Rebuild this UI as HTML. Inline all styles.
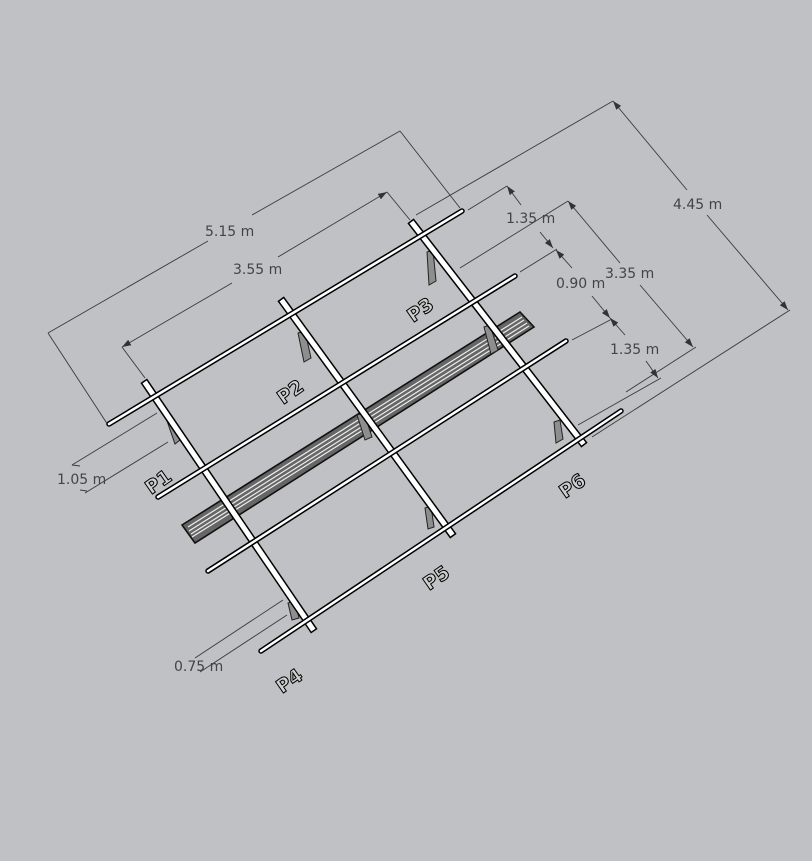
<!DOCTYPE html>
<html><head><meta charset="utf-8"><style>
html,body{margin:0;padding:0;background:#c0c1c5;}
svg{display:block}
text{font-family:"DejaVu Sans","Liberation Sans",sans-serif;}
</style></head><body>
<svg width="812" height="861" viewBox="0 0 812 861" xmlns="http://www.w3.org/2000/svg">
<rect width="812" height="861" fill="#c0c1c5"/>
<defs>
<marker id="ar" viewBox="0 0 10 10" refX="10" refY="5" markerWidth="9" markerHeight="9" orient="auto-start-reverse" markerUnits="userSpaceOnUse"><path d="M0,1.5 L10,5 L0,8.5 z" fill="#333"/></marker>
</defs>
<g stroke="#3a3a3a" stroke-width="0.9" fill="none">
 <line x1="48" y1="333" x2="108" y2="425"/>
 <line x1="400" y1="131" x2="460" y2="208"/>
 <line x1="48" y1="333" x2="208" y2="241"/>
 <line x1="252" y1="215" x2="400" y2="131"/>
 <line x1="122" y1="347" x2="145" y2="378"/>
 <line x1="387" y1="192" x2="410" y2="220"/>
 <line x1="122" y1="347" x2="232" y2="283" marker-start="url(#ar)"/>
 <line x1="278" y1="257" x2="387" y2="192" marker-end="url(#ar)"/>
 <line x1="613" y1="101" x2="416" y2="215"/>
 <line x1="790" y1="310" x2="592" y2="437"/>
 <line x1="613" y1="101" x2="687" y2="190" marker-start="url(#ar)"/>
 <line x1="707" y1="215" x2="788" y2="310" marker-end="url(#ar)"/>
 <line x1="507" y1="186" x2="468" y2="210"/>
 <line x1="507" y1="186" x2="521" y2="205" marker-start="url(#ar)"/>
 <line x1="540" y1="232" x2="553" y2="248" marker-end="url(#ar)"/>
 <line x1="557" y1="249" x2="520" y2="272"/>
 <line x1="556" y1="250" x2="572" y2="268" marker-start="url(#ar)"/>
 <line x1="592" y1="296" x2="610" y2="318" marker-end="url(#ar)"/>
 <line x1="612" y1="319" x2="572" y2="340"/>
 <line x1="610" y1="318" x2="625" y2="335" marker-start="url(#ar)"/>
 <line x1="646" y1="361" x2="658" y2="378" marker-end="url(#ar)"/>
 <line x1="661" y1="378" x2="578" y2="425"/>
 <line x1="568" y1="201" x2="460" y2="268"/>
 <line x1="568" y1="201" x2="620" y2="263" marker-start="url(#ar)"/>
 <line x1="640" y1="285" x2="693" y2="347" marker-end="url(#ar)"/>
 <line x1="696" y1="347" x2="626" y2="392"/>
 <line x1="157" y1="413" x2="72" y2="465"/>
 <line x1="168" y1="442" x2="85" y2="493"/>
 <line x1="80" y1="466" x2="72" y2="465"/>
 <line x1="80" y1="490" x2="87" y2="491"/>
 <line x1="283" y1="600" x2="195" y2="658"/>
 <line x1="287" y1="615" x2="200" y2="672"/>
</g>
<g fill="#444" font-size="14">
 <text x="205" y="236">5.15 m</text>
 <text x="233" y="274">3.55 m</text>
 <text x="673" y="209">4.45 m</text>
 <text x="506" y="223">1.35 m</text>
 <text x="556" y="288">0.90 m</text>
 <text x="605" y="278">3.35 m</text>
 <text x="610" y="354">1.35 m</text>
 <text x="57" y="484">1.05 m</text>
 <text x="174" y="671">0.75 m</text>
</g>
<g>
 <polygon points="182,525 520,312 534,327 195,543" fill="#666" stroke="#111" stroke-width="1.6"/>
 <g stroke="#eee" stroke-width="1.2">
  <line x1="188" y1="527" x2="522" y2="317"/>
  <line x1="189" y1="531" x2="524" y2="320"/>
  <line x1="191" y1="534" x2="527" y2="323"/>
  <line x1="192" y1="537" x2="529" y2="326"/>
 </g>
</g>
<g fill="#8e8e8e" stroke="#222" stroke-width="1">
 <polygon points="166,418 172,416 180,440 175,444"/>
 <polygon points="298,333 305,331 311,358 304,362"/>
 <polygon points="427,252 433,250 436,281 429,285"/>
 <polygon points="357,415 364,413 372,437 365,440"/>
 <polygon points="484,327 490,325 498,350 491,354"/>
 <polygon points="554,422 560,420 563,439 556,443"/>
 <polygon points="425,508 431,506 434,527 428,529"/>
 <polygon points="288,603 295,601 299,618 292,620"/>
</g>
<g stroke-linecap="square">
 <g stroke="#000" stroke-width="8">
  <line x1="146" y1="384" x2="312" y2="628"/>
  <line x1="283" y1="302" x2="451" y2="533"/>
  <line x1="413" y1="224" x2="582" y2="442"/>
 </g>
 <g stroke="#fff" stroke-width="5">
  <line x1="146" y1="384" x2="312" y2="628"/>
  <line x1="283" y1="302" x2="451" y2="533"/>
  <line x1="413" y1="224" x2="582" y2="442"/>
 </g>
</g>
<g stroke-linecap="round">
 <g stroke="#000" stroke-width="5.5">
  <line x1="109" y1="424" x2="462" y2="211"/>
  <line x1="158" y1="497" x2="515" y2="276"/>
  <line x1="208" y1="571" x2="566" y2="341"/>
  <line x1="261" y1="651" x2="621" y2="411"/>
 </g>
 <g stroke="#fff" stroke-width="2.5">
  <line x1="109" y1="424" x2="462" y2="211"/>
  <line x1="158" y1="497" x2="515" y2="276"/>
  <line x1="208" y1="571" x2="566" y2="341"/>
  <line x1="261" y1="651" x2="621" y2="411"/>
 </g>
</g>
<g font-size="19" font-weight="bold" fill="#d0d0d0" stroke="#000" stroke-width="1" font-family="Liberation Sans, sans-serif">
 <text transform="translate(151,495) rotate(-35)">P1</text>
 <text transform="translate(283,405) rotate(-35)">P2</text>
 <text transform="translate(413,323) rotate(-35)">P3</text>
 <text transform="translate(282,694) rotate(-35)">P4</text>
 <text transform="translate(429,591) rotate(-35)">P5</text>
 <text transform="translate(565,499) rotate(-35)">P6</text>
</g>
</svg>
</body></html>
